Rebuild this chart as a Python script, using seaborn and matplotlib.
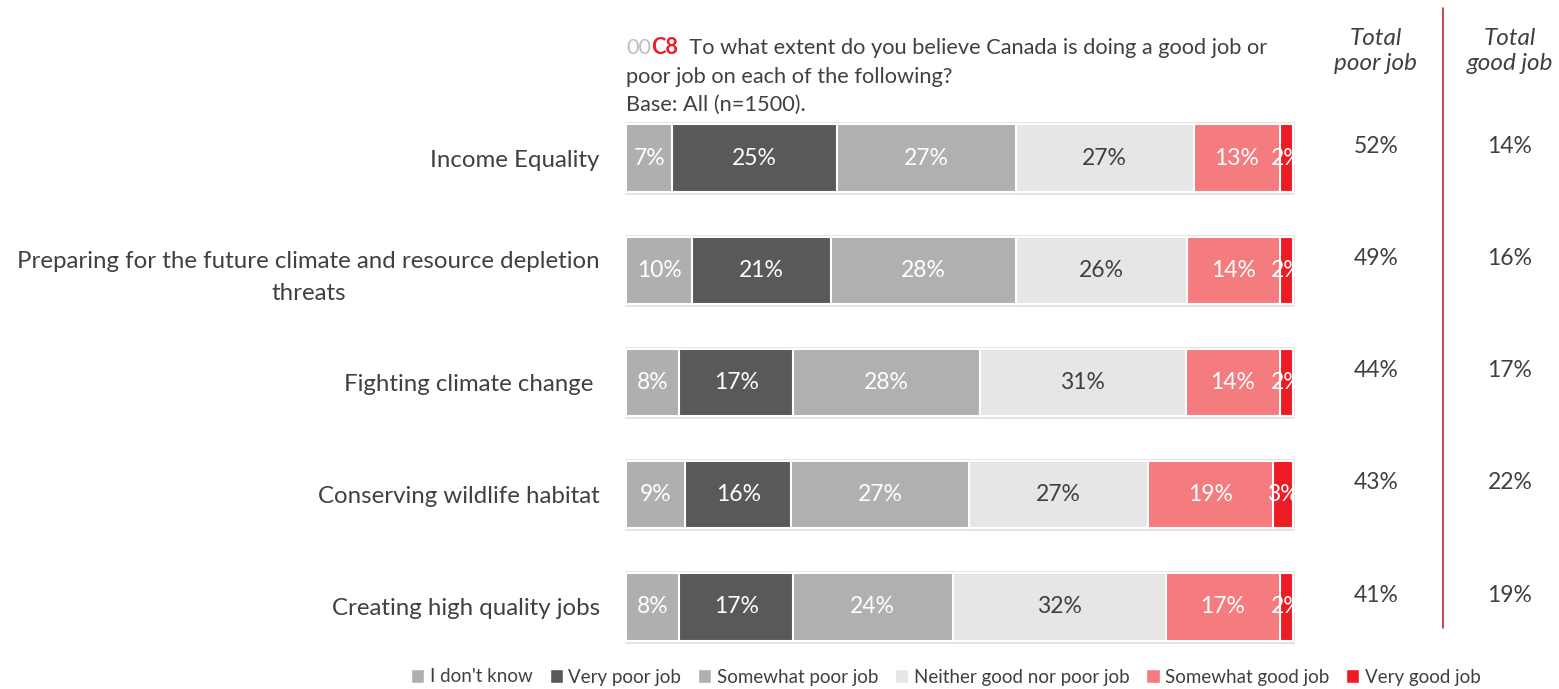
import numpy as np
import pandas as pd
import matplotlib
matplotlib.use("Agg")
import matplotlib.pyplot as plt
import seaborn as sns
from matplotlib.patches import Patch
from matplotlib.lines import Line2D

# ---------------- data ----------------
categories = ["Income Equality",
              "Preparing for the future climate and resource depletion\nthreats",
              "Fighting climate change ",
              "Conserving wildlife habitat",
              "Creating high quality jobs"]
series_names = ["I don't know", "Very poor job", "Somewhat poor job",
                "Neither good nor poor job", "Somewhat good job", "Very good job"]
dont_know = [7, 10, 8, 9, 8]
very_poor = [25, 21, 17, 16, 17]
somewhat_poor = [27, 28, 28, 27, 24]
neither = [27, 26, 31, 27, 32]
somewhat_good = [13, 14, 14, 19, 17]
very_good = [2, 2, 2, 3, 2]
total_poor = [52, 49, 44, 43, 41]
total_good = [14, 16, 17, 22, 19]

series = [dont_know, very_poor, somewhat_poor, neither, somewhat_good, very_good]
colors = ["#afafaf", "#595959", "#b0b0b0", "#e6e6e6", "#f47c7e", "#ed1c24"]
text_colors = ["white", "white", "white", "#404040", "white", "white"]

# ---------------- figure ----------------
sns.set_theme(style="white")
plt.rcParams["font.family"] = ["Lato", "DejaVu Sans"]
W, H = 1559, 689
fig = plt.figure(figsize=(W / 100, H / 100), dpi=100)

x0_px, x100_px = 626, 1293
pad = 0.4
ppu = (x100_px - x0_px) / 100.0
left_px = x0_px - pad * ppu
right_px = x100_px + pad * ppu
top_px, bot_px = 102, 663
ax = fig.add_axes([left_px / W, 1 - bot_px / H, (right_px - left_px) / W, (bot_px - top_px) / H])

vals = np.array(series, dtype=float)  # 6 x 5
tot = vals.sum(axis=0)
shares = vals / tot * 100
cum = np.cumsum(shares, axis=0)

df = pd.DataFrame({"cat": categories})
for k in range(6):
    df[f"cum{k}"] = cum[k]
df["full"] = 100.0

sns.barplot(data=df, y="cat", x="full", orient="h", color="#e6e6e6", saturation=1,
            width=0.62, edgecolor="#e0e0e0", linewidth=2, errorbar=None, ax=ax)
for k in range(5, -1, -1):
    sns.barplot(data=df, y="cat", x=f"cum{k}", orient="h", color=colors[k], saturation=1,
                width=0.6, edgecolor="white", linewidth=1.5, errorbar=None, ax=ax)

VAL_FS = 16.5
for k in range(6):
    for i in range(len(categories)):
        start = cum[k][i] - shares[k][i]
        ax.text(start + shares[k][i] / 2, i, f"{series[k][i]}%", ha="center", va="center",
                fontsize=VAL_FS, color=text_colors[k], clip_on=True)

ax.set_xlim(-pad, 100 + pad)
ax.set_ylim(len(categories) - 0.5, -0.5)
ax.set_xlabel("")
ax.set_ylabel("")
ax.set_xticks([])
ax.tick_params(axis="y", length=0, pad=17, labelsize=17.3, labelcolor="#404040")
for lab in ax.get_yticklabels():
    lab.set_multialignment("center")
    lab.set_linespacing(1.6)
for s in ax.spines.values():
    s.set_visible(False)

# right-hand totals
poor_x, good_x = 1376 / W, 1510 / W
for i in range(len(categories)):
    ax.annotate(f"{total_poor[i]}%", xy=(poor_x, i), xycoords=("figure fraction", "data"),
                xytext=(0, 8.5), textcoords="offset points", ha="center", va="center",
                fontsize=VAL_FS, color="#404040", annotation_clip=False)
    ax.annotate(f"{total_good[i]}%", xy=(good_x, i), xycoords=("figure fraction", "data"),
                xytext=(0, 8.5), textcoords="offset points", ha="center", va="center",
                fontsize=VAL_FS, color="#404040", annotation_clip=False)

fig.text(poor_x, 1 - 51 / H, "Total\npoor job", ha="center", va="center", style="italic",
         fontsize=17.5, color="#404040", linespacing=1.25)
fig.text(good_x, 1 - 51 / H, "Total\ngood job", ha="center", va="center", style="italic",
         fontsize=17.5, color="#404040", linespacing=1.25)
fig.add_artist(Line2D([1443 / W, 1443 / W], [1 - 8 / H, 1 - 628 / H], color="#c0282d", lw=1.2))

# title
TFS = 15.7
t1 = fig.text(626 / W, 1 - 48 / H, "00", ha="left", va="center", fontsize=TFS, color="#bfbfbf")
t2 = ax.annotate("C8", xy=(1, 0.5), xycoords=t1, ha="left", va="center", fontsize=TFS,
                 color="#ee1c24", fontweight="bold", annotation_clip=False)
t3 = ax.annotate("  To what extent do you believe Canada is doing a good job or", xy=(1, 0.5),
                 xycoords=t2, ha="left", va="center", fontsize=TFS, color="#404040",
                 annotation_clip=False)
fig.text(626 / W, 1 - 77 / H, "poor job on each of the following?", ha="left", va="center",
         fontsize=TFS, color="#404040")
fig.text(626 / W, 1 - 105 / H, "Base: All (n=1500).", ha="left", va="center",
         fontsize=TFS, color="#404040")

# legend
handles = [Patch(facecolor=c, edgecolor="white", label=n) for c, n in zip(colors, series_names)]
fig.legend(handles=handles, loc="center", bbox_to_anchor=(946 / W, 1 - 677 / H), ncol=6,
           frameon=False, fontsize=13.5, handlelength=0.7, handleheight=0.7, handletextpad=0.3,
           columnspacing=0.9, labelcolor="#404040")

fig.savefig("out.png", dpi=100)
